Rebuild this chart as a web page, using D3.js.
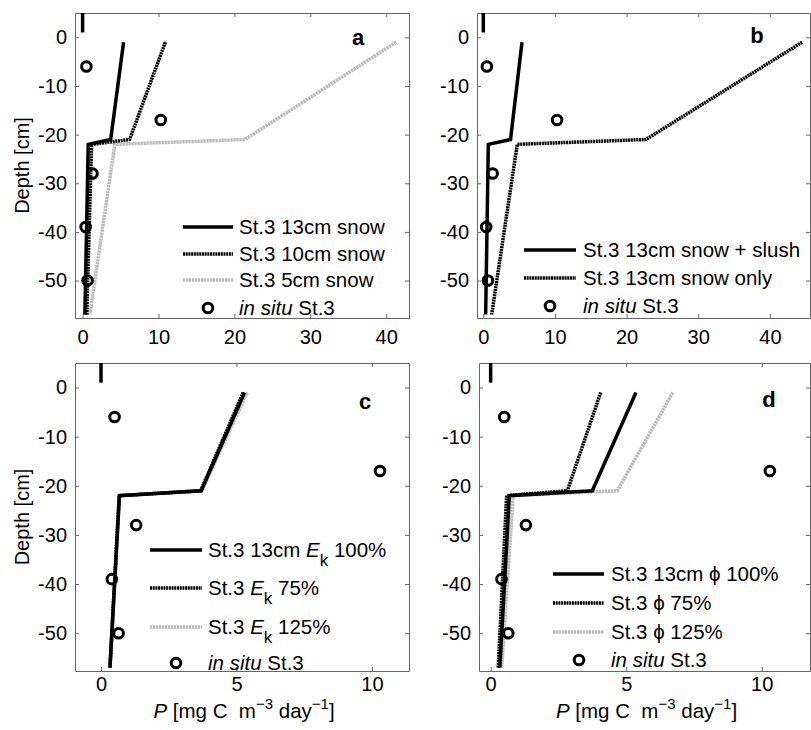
<!DOCTYPE html>
<html>
<head>
<meta charset="utf-8">
<script src="https://cdn.jsdelivr.net/npm/d3@7"></script>
<style>
  body { margin: 0; background: #fff; }
  svg { font-family: 'Liberation Sans', Arial, sans-serif; }
  .tick text { font-size: 20px; fill: #000; }
  .tick line { stroke: #666; }
  .domain { stroke: #666; }
</style>
</head>
<body>
<svg id="chart" width="811" height="730"></svg>
<script>
// depths of the model profile nodes (cm)
const depths = [-1, -21, -22, -57];

// panel a: snow depth scenarios
const aSnow13 = [5.4, 3.7, 0.74, 0.3];
const aSnow10 = [10.9, 6.2, 1.18, 0.55];
const aSnow5 = [41.3, 21.4, 4.25, 0.96];

// panel b: slush vs snow only
const bSlush = [5.4, 3.8, 0.7, 0.33];
const bSnowOnly = [44.5, 22.7, 4.74, 1.17];

// panel c: Ek sensitivity
const cEk100 = [5.3, 3.7, 0.68, 0.33];
const cEk75 = [5.25, 3.68, 0.67, 0.33];
const cEk125 = [5.4, 3.72, 0.69, 0.34];

// panel d: phi sensitivity
const dPhi100 = [5.36, 3.75, 0.69, 0.34];
const dPhi75 = [4.06, 2.83, 0.59, 0.28];
const dPhi125 = [6.72, 4.67, 0.83, 0.41];

// in situ measurements
const inSituP = [0.5, 10.3, 1.3, 0.4, 0.65];
const inSituDepth = [-6, -17, -28, -39, -50];

// snow surface marker
const markerP = [0, 0];
const markerDepth = [1, 13];

const yTicks = [0, -10, -20, -30, -40, -50];
const xTicksWide = [0, 10, 20, 30, 40];
const xTicksNarrow = [0, 5, 10];

const styles = {
  solid: { stroke: '#000', dash: null },
  dotted: { stroke: '#000', dash: '2,0.7' },
  gray: { stroke: '#bcbcbc', dash: '2.4,0.6' }
};

const panels = [
  {
    id: 'a', left: 75, right: 409, top: 13, bottom: 318,
    xDomain: [-1, 43], xTicks: xTicksWide, xPad: 12, yLabel: true, xLabel: false,
    letter: { dx: 283, dy: 32 },
    series: [
      { vals: aSnow5, style: 'gray', label: [{ t: 'St.3 5cm snow' }] },
      { vals: aSnow10, style: 'dotted', label: [{ t: 'St.3 10cm snow' }] },
      { vals: aSnow13, style: 'solid', label: [{ t: 'St.3 13cm snow' }] }
    ],
    legendOrder: [2, 1, 0],
    legend: { lineX: [108, 158], textX: 164, circleX: 133, rows: [214, 241, 267, 295] }
  },
  {
    id: 'b', left: 477, right: 810, top: 13, bottom: 318,
    xDomain: [-0.88, 45.6], xTicks: xTicksWide, xPad: 12, yLabel: false, xLabel: false,
    letter: { dx: 280, dy: 30 },
    series: [
      { vals: bSnowOnly, style: 'dotted', label: [{ t: 'St.3 13cm snow only' }] },
      { vals: bSlush, style: 'solid', label: [{ t: 'St.3 13cm snow + slush' }] }
    ],
    legendOrder: [1, 0],
    legend: { lineX: [47, 99], textX: 106, circleX: 73, rows: [237, 265, 293] }
  },
  {
    id: 'c', left: 75, right: 409, top: 363, bottom: 671,
    xDomain: [-0.96, 11.37], xTicks: xTicksNarrow, xPad: 6, yLabel: true, xLabel: true,
    letter: { dx: 290, dy: 46 },
    series: [
      { vals: cEk125, style: 'gray', label: [{ t: 'St.3 ' }, { t: 'E', i: true }, { t: 'k', sub: true }, { t: ' 125%', back: true }] },
      { vals: cEk75, style: 'dotted', label: [{ t: 'St.3 ' }, { t: 'E', i: true }, { t: 'k', sub: true }, { t: ' 75%', back: true }] },
      { vals: cEk100, style: 'solid', label: [{ t: 'St.3 13cm ' }, { t: 'E', i: true }, { t: 'k', sub: true }, { t: ' 100%', back: true }] }
    ],
    legendOrder: [2, 1, 0],
    legend: { lineX: [75, 127], textX: 133, circleX: 101, rows: [187, 225, 264, 300] }
  },
  {
    id: 'd', left: 479, right: 810, top: 363, bottom: 671,
    xDomain: [-0.43, 11.78], xTicks: xTicksNarrow, xPad: 6, yLabel: false, xLabel: true,
    letter: { dx: 290, dy: 44 },
    series: [
      { vals: dPhi125, style: 'gray', label: [{ t: 'St.3 \u03d5 125%' }] },
      { vals: dPhi75, style: 'dotted', label: [{ t: 'St.3 \u03d5 75%' }] },
      { vals: dPhi100, style: 'solid', label: [{ t: 'St.3 13cm \u03d5 100%' }] }
    ],
    legendOrder: [2, 1, 0],
    legend: { lineX: [74, 125], textX: 132, circleX: 100, rows: [211, 240, 269, 297] }
  }
];

const svg = d3.select('#chart');
const fs = 20.5;
const circR = 4.8;
const circW = 3;

function addRuns(textSel, runs) {
  runs.forEach(r => {
    const ts = textSel.append('tspan').text(r.t);
    if (r.i) ts.attr('font-style', 'italic');
    if (r.sub) ts.attr('font-size', 17).attr('dy', 9);
    if (r.back) ts.attr('dy', -9);
  });
}

panels.forEach(p => {
  const w = p.right - p.left;
  const h = p.bottom - p.top;
  const x = d3.scaleLinear().domain(p.xDomain).range([0, w]);
  const y = d3.scaleLinear().domain([-57.7, 5]).range([h, 0]);

  const g = svg.append('g').attr('transform', `translate(${p.left},${p.top})`);

  g.append('clipPath').attr('id', 'clip-' + p.id)
    .append('rect').attr('width', w).attr('height', h);

  // axes with inward ticks on all sides
  g.append('g').attr('transform', `translate(0,${h})`)
    .call(d3.axisBottom(x).tickValues(p.xTicks).tickSize(-4).tickSizeOuter(0)
      .tickPadding(p.xPad).tickFormat(d => String(d)));
  g.append('g')
    .call(d3.axisTop(x).tickValues(p.xTicks).tickSize(-4).tickSizeOuter(0).tickFormat(''));
  g.append('g')
    .call(d3.axisLeft(y).tickValues(yTicks).tickSize(-4).tickSizeOuter(0)
      .tickPadding(8).tickFormat(d => String(d)));
  g.append('g').attr('transform', `translate(${w},0)`)
    .call(d3.axisRight(y).tickValues(yTicks).tickSize(-4).tickSizeOuter(0).tickFormat(''));
  g.selectAll('.tick text').attr('fill', '#000');

  const plot = g.append('g').attr('clip-path', `url(#clip-${p.id})`);

  const line = d3.line().x(d => x(d[0])).y(d => y(d[1]));

  // surface marker
  plot.append('path')
    .datum(markerP.map((v, i) => [v, markerDepth[i]]))
    .attr('d', line)
    .attr('fill', 'none').attr('stroke', '#000').attr('stroke-width', 3.5);

  p.series.forEach(s => {
    const st = styles[s.style];
    plot.append('path')
      .datum(s.vals.map((v, i) => [v, depths[i]]))
      .attr('d', line)
      .attr('fill', 'none')
      .attr('stroke', st.stroke)
      .attr('stroke-width', 3.5)
      .attr('stroke-dasharray', st.dash);
  });

  plot.selectAll('circle.insitu')
    .data(inSituP.map((v, i) => [v, inSituDepth[i]]))
    .enter().append('circle')
    .attr('class', 'insitu')
    .attr('cx', d => x(d[0]))
    .attr('cy', d => y(d[1]))
    .attr('r', circR)
    .attr('fill', 'none').attr('stroke', '#000').attr('stroke-width', circW);

  // legend
  const L = p.legend;
  p.legendOrder.forEach((si, k) => {
    const s = p.series[si];
    const st = styles[s.style];
    const cy = L.rows[k];
    g.append('line')
      .attr('x1', L.lineX[0]).attr('x2', L.lineX[1])
      .attr('y1', cy).attr('y2', cy)
      .attr('stroke', st.stroke).attr('stroke-width', 3.5)
      .attr('stroke-dasharray', st.dash);
    const t = g.append('text').attr('x', L.textX).attr('y', cy + 7)
      .attr('font-size', fs);
    addRuns(t, s.label);
  });
  const lastRow = L.rows[L.rows.length - 1];
  g.append('circle').attr('cx', L.circleX).attr('cy', lastRow)
    .attr('r', circR).attr('fill', 'none').attr('stroke', '#000').attr('stroke-width', circW);
  const it = g.append('text').attr('x', L.textX).attr('y', lastRow + 7).attr('font-size', fs);
  it.append('tspan').attr('font-style', 'italic').text('in situ');
  it.append('tspan').text(' St.3');

  // panel letter
  g.append('text').attr('x', p.letter.dx).attr('y', p.letter.dy)
    .attr('text-anchor', 'middle').attr('font-size', 22).attr('font-weight', 'bold')
    .text(p.id);

  if (p.yLabel) {
    g.append('text')
      .attr('transform', `translate(${29 - p.left},${h / 2}) rotate(-90)`)
      .attr('text-anchor', 'middle').attr('font-size', 20)
      .text('Depth [cm]');
  }
  if (p.xLabel) {
    const xl = g.append('text')
      .attr('x', w / 2 + 2).attr('y', h + 47)
      .attr('text-anchor', 'middle').attr('font-size', 20.5);
    xl.append('tspan').attr('font-style', 'italic').text('P');
    xl.append('tspan').text(' [mg C\u00a0\u00a0m');
    xl.append('tspan').attr('font-size', 15).attr('dy', -9).text('\u22123');
    xl.append('tspan').attr('dy', 9).text(' day');
    xl.append('tspan').attr('font-size', 15).attr('dy', -9).text('\u22121');
    xl.append('tspan').attr('dy', 9).text(']');
  }
});
</script>
</body>
</html>
